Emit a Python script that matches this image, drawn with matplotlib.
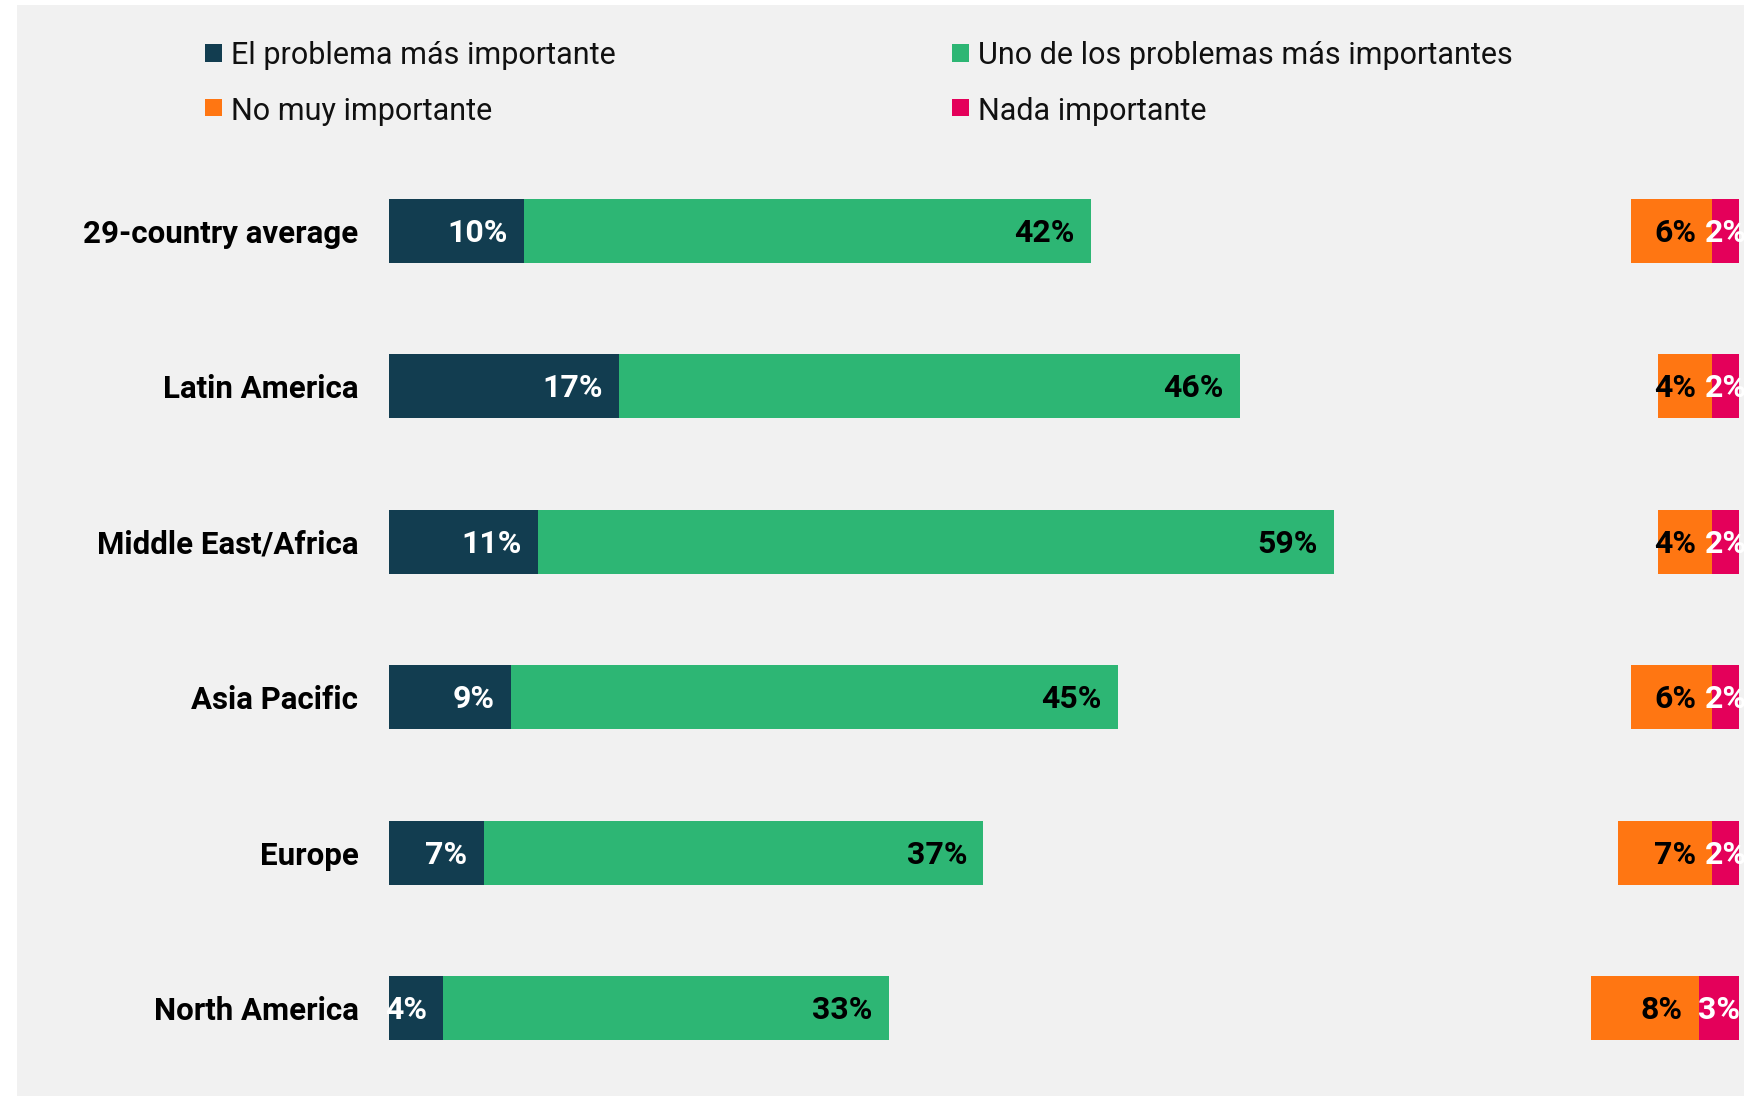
import matplotlib
matplotlib.use("Agg")
import matplotlib.pyplot as plt
from matplotlib.patches import Rectangle
from matplotlib.transforms import Bbox, TransformedBbox

plt.rcParams['font.family'] = ['Roboto', 'DejaVu Sans']

regions = ['29-country average', 'Latin America', 'Middle East/Africa',
           'Asia Pacific', 'Europe', 'North America']
most_important = [10, 17, 11, 9, 7, 4]
one_of_most = [42, 46, 59, 45, 37, 33]
not_very = [6, 4, 4, 6, 7, 8]
not_at_all = [2, 2, 2, 2, 2, 3]

legend_labels = ['El problema más importante', 'Uno de los problemas más importantes',
                 'No muy importante', 'Nada importante']
colors = ['#123d50', '#2db674', '#ff7612', '#e4005a']

W, H = 1757, 1096
fig = plt.figure(figsize=(W / 100, H / 100), dpi=100, facecolor='white')

# grey panel behind everything
fig.patches.append(Rectangle((17 / W, 0), (1744 - 17) / W, 1 - 5 / H,
                             transform=fig.transFigure, facecolor='#f1f1f1',
                             edgecolor='none', zorder=-10))

ax = fig.add_axes([389 / W, 1 - 1086 / H, 1350 / W, (1086 - 153) / H])
ax.patch.set_visible(False)

y = list(range(len(regions)))
h = 0.41
left_right = [100 - a - b for a, b in zip(not_very, not_at_all)]
left_red = [100 - b for b in not_at_all]

b1 = ax.barh(y, most_important, height=h, color=colors[0])
b2 = ax.barh(y, one_of_most, left=most_important, height=h, color=colors[1])
b3 = ax.barh(y, not_very, left=left_right, height=h, color=colors[2])
b4 = ax.barh(y, not_at_all, left=left_red, height=h, color=colors[3])

ax.set_xlim(0, 100)
ax.set_ylim(len(regions) - 0.5, -0.5)
ax.set_yticks(y)
ax.set_yticklabels(regions, fontsize=22.5, fontweight='bold', color='black')
ax.tick_params(axis='y', length=0, pad=22)
ax.set_xticks([])
for s in ax.spines.values():
    s.set_visible(False)

clip = TransformedBbox(Bbox([[17 / W, 0], [1744 / W, 1]]), fig.transFigure)


def end_labels(bars, vals, color):
    for rect, v in zip(bars, vals):
        x = rect.get_x() + rect.get_width()
        yc = rect.get_y() + rect.get_height() / 2
        ax.annotate(f'{v}%', (x, yc), xytext=(-16, -2), textcoords='offset pixels',
                    ha='right', va='center', fontsize=23, fontweight='bold',
                    color=color, annotation_clip=False)


end_labels(b1, most_important, 'white')
end_labels(b2, one_of_most, 'black')
end_labels(b3, not_very, 'black')
for rect, v in zip(b4, not_at_all):
    t = ax.annotate(f'{v}%', (rect.get_x() + rect.get_width() / 2,
                              rect.get_y() + rect.get_height() / 2),
                    xytext=(0, -2), textcoords='offset pixels',
                    ha='center', va='center', fontsize=23, fontweight='bold',
                    color='white', annotation_clip=False)
    t.set_clip_on(True)
    t.set_clip_box(clip)

# legend drawn by hand in figure pixels
leg_pos = [(205, 53), (952, 53), (205, 108), (952, 108)]
for (lx, ly), lab, c in zip(leg_pos, legend_labels, colors):
    fig.patches.append(Rectangle((lx / W, 1 - (ly + 8.5) / H), 17 / W, 17 / H,
                                 transform=fig.transFigure, facecolor=c, edgecolor='none'))
    fig.text((lx + 26) / W, 1 - ly / H, lab, ha='left', va='center_baseline',
             fontsize=22, color='#111111')

fig.savefig('out.png', dpi=100, facecolor=fig.get_facecolor())
